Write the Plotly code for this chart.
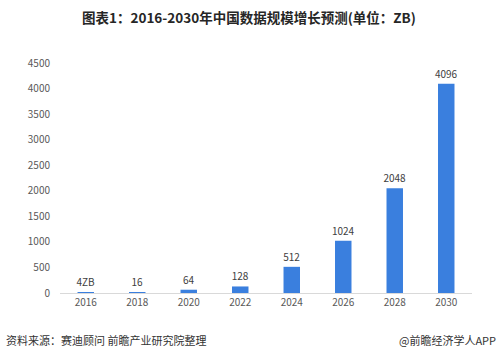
import plotly.graph_objects as go

years = ["2016", "2018", "2020", "2022", "2024", "2026", "2028", "2030"]
values = [4, 16, 64, 128, 512, 1024, 2048, 4096]
labels = ["4ZB", "16", "64", "128", "512", "1024", "2048", "4096"]
y_ticks = [0, 500, 1000, 1500, 2000, 2500, 3000, 3500, 4000, 4500]

font = "Noto Sans CJK SC"
W, H = 499, 357
L, R, T, B = 60, 27, 63, 64
pw, ph = W - L - R, H - T - B

def px(x):
    return (x - L) / pw

def py(y):
    return (H - B - y) / ph

fig = go.Figure(go.Bar(
    x=years, y=values, text=labels, textposition="outside", constraintext="none",
    textfont=dict(size=10, color="#404040", family=font),
    marker=dict(color="#3a7fde", line=dict(width=0)),
    width=0.32, cliponaxis=False,
))

fig.update_layout(
    width=W, height=H,
    margin=dict(l=L, r=R, t=T, b=B),
    plot_bgcolor="white", paper_bgcolor="white",
    showlegend=False,
    font=dict(family=font, size=10, color="#595959"),
    xaxis=dict(type="category", showgrid=False, showline=True, linecolor="#d9d9d9",
               linewidth=1, ticks="", tickfont=dict(size=10, color="#595959")),
    yaxis=dict(range=[0, 4500], tickvals=y_ticks, showgrid=False, zeroline=False,
               showline=False, ticks="", tickfont=dict(size=10, color="#595959"),
               ticklabelstandoff=9),
)
fig.add_annotation(text="<b>图表1：2016-2030年中国数据规模增长预测(单位：ZB)</b>", x=px(249), y=py(17),
                   xref="paper", yref="paper", xanchor="center", yanchor="middle", showarrow=False,
                   font=dict(size=13.5, color="#262626", family=font))
fig.add_annotation(text="资料来源：赛迪顾问 前瞻产业研究院整理", x=px(4), y=py(340),
                   xref="paper", yref="paper", xanchor="left", yanchor="middle", showarrow=False,
                   font=dict(size=11, color="#333333", family=font))
fig.add_annotation(text="@前瞻经济学人APP", x=px(498), y=py(340),
                   xref="paper", yref="paper", xanchor="right", yanchor="middle", showarrow=False,
                   font=dict(size=11, color="#333333", family=font))

fig.write_html("out.html", config={"displayModeBar": False},
               post_script="document.body.style.margin='0';")
